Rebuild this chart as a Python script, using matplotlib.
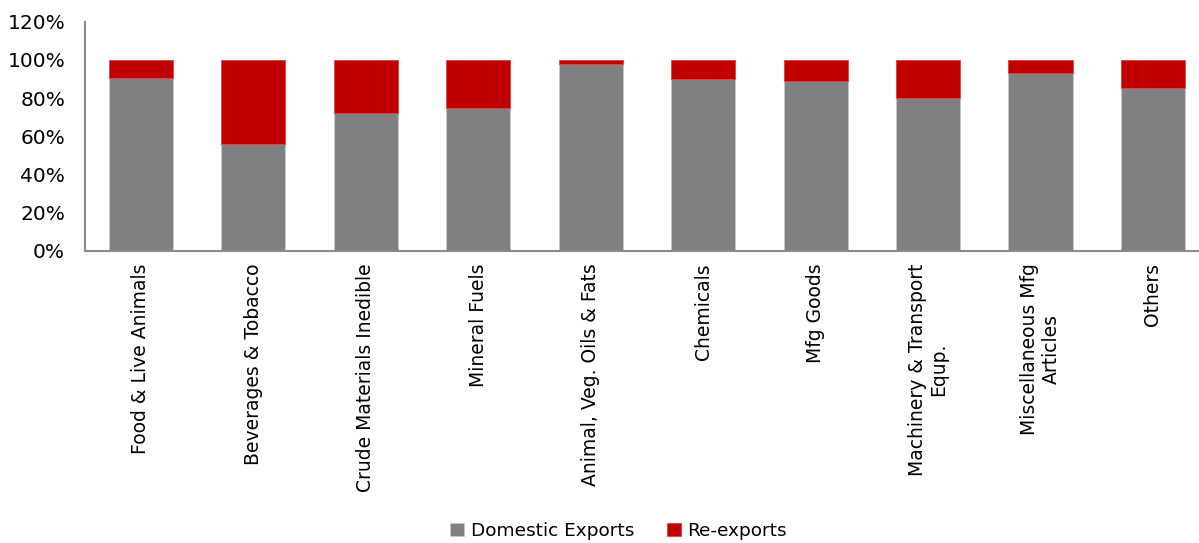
import matplotlib
matplotlib.use('Agg')
import matplotlib.pyplot as plt
from matplotlib.ticker import PercentFormatter

plt.rcParams['font.family'] = ['DejaVu Sans']

# Category labels and shares (%)
categories = ['Food & Live Animals', 'Beverages & Tobacco', 'Crude Materials Inedible',
              'Mineral Fuels', 'Animal, Veg. Oils & Fats', 'Chemicals', 'Mfg Goods',
              'Machinery & Transport\nEqup.', 'Miscellaneous Mfg\nArticles', 'Others']
domestic = [90.5, 55.9, 72.1, 74.9, 97.9, 90.0, 88.9, 80.0, 93.1, 85.3]
reexports = [100 - d for d in domestic]

grey = '#808080'
red = '#C00000'

fig = plt.figure(figsize=(11.99, 5.43), dpi=100)
ax = fig.add_axes([0.0705, 0.538, 0.938, 0.422])

x = range(len(categories))
ax.bar(x, domestic, width=0.57, color=grey, edgecolor='#c8c8c8', linewidth=0.6,
       label='Domestic Exports')
ax.bar(x, reexports, width=0.57, bottom=domestic, color=red, edgecolor='#e04040',
       linewidth=0.6, label='Re-exports')

ax.set_xlim(-0.5, 9.5)
ax.set_ylim(0, 120)
ax.set_yticks(range(0, 121, 20))
ax.yaxis.set_major_formatter(PercentFormatter(decimals=0))
ax.set_xticks(list(x))
ax.set_xticklabels(categories, rotation=90, ha='center', va='top',
                   multialignment='center', fontsize=13.5)
ax.tick_params(axis='y', labelsize=14.5, length=0, pad=14)
ax.tick_params(axis='x', length=0, pad=9)

for side in ['top', 'right']:
    ax.spines[side].set_visible(False)
for side in ['left', 'bottom']:
    ax.spines[side].set_color('#8c8c8c')
    ax.spines[side].set_linewidth(1.5)

fig.legend(loc='center', bbox_to_anchor=(0.516, 0.022), ncol=2, frameon=False,
           fontsize=13.3, handlelength=0.75, handleheight=0.75, handletextpad=0.35,
           columnspacing=1.8)

fig.savefig('out.png', dpi=100)
